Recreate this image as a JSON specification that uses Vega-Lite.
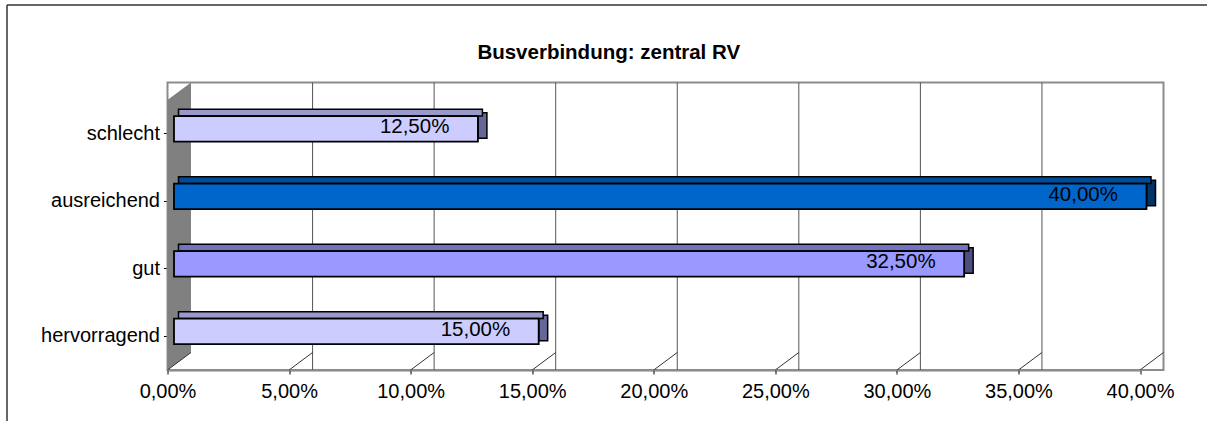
{
  "$schema": "https://vega.github.io/schema/vega-lite/v6.json",
  "width": 972.5,
  "height": 270,
  "autosize": {"type": "none"},
  "padding": {"left": 167.5, "top": 100, "right": 67, "bottom": 51},
  "background": "white",
  "title": {
    "text": "Busverbindung: zentral RV",
    "font": "Liberation Sans",
    "fontSize": 20.5,
    "fontWeight": "bold",
    "color": "black",
    "anchor": "middle",
    "baseline": "alphabetic",
    "dx": -45,
    "offset": -77
  },
  "config": {
    "locale": {"number": {"decimal": ",", "thousands": ".", "grouping": [3], "currency": ["", " €"]}},
    "view": {"stroke": null},
    "font": "Liberation Sans"
  },
  "datasets": {
    "bars": [
      {"cat": "schlecht", "value": 0.125},
      {"cat": "ausreichend", "value": 0.4},
      {"cat": "gut", "value": 0.325},
      {"cat": "hervorragend", "value": 0.15}
    ],
    "ticks": [
      {"tick": 0}, {"tick": 0.05}, {"tick": 0.1}, {"tick": 0.15}, {"tick": 0.2},
      {"tick": 0.25}, {"tick": 0.3}, {"tick": 0.35}, {"tick": 0.4}
    ],
    "inner": [
      {"tick": 0.05}, {"tick": 0.1}, {"tick": 0.15}, {"tick": 0.2},
      {"tick": 0.25}, {"tick": 0.3}, {"tick": 0.35}
    ],
    "one": [{"k": 1}]
  },
  "layer": [
    {
      "data": {"name": "one"},
      "mark": {"type": "point", "filled": false, "stroke": "#333333", "strokeWidth": 1.5, "opacity": 1,
        "shape": "M-0.6978,0.82L-0.6978,-1", "size": 211600},
      "encoding": {"x": {"datum": 0, "type": "quantitative"}}
    },
    {
      "data": {"name": "one"},
      "mark": {"type": "point", "filled": false, "stroke": "#333333", "strokeWidth": 1.5, "opacity": 1,
        "shape": "M-0.6978,-1L4.6,-1", "size": 211600},
      "encoding": {"x": {"datum": 0, "type": "quantitative"}}
    },
    {
      "data": {"name": "one"},
      "mark": {"type": "rect", "fill": "white", "stroke": "#8c8c8c", "strokeWidth": 2,
        "xOffset": 23.5, "x2Offset": 23.5, "yOffset": -17.5, "y2Offset": -17.5},
      "encoding": {}
    },
    {
      "data": {"name": "inner"},
      "mark": {"type": "rule", "stroke": "#555555", "strokeWidth": 1,
        "xOffset": 23.5, "yOffset": -17.5, "y2Offset": -17.5},
      "encoding": {"x": {"field": "tick", "type": "quantitative"}}
    },
    {
      "data": {"name": "one"},
      "mark": {"type": "point", "filled": true, "fill": "#808080", "opacity": 1, "strokeWidth": 0,
        "shape": "M-0.0817,-0.8783L0.0817,-1L0.0817,0.8783L-0.0817,1Z",
        "size": 82656.25, "xOffset": 11.75, "yOffset": -8.75},
      "encoding": {"x": {"datum": 0, "type": "quantitative"}}
    },
    {
      "data": {"name": "ticks"},
      "mark": {"type": "point", "filled": false, "stroke": "#333333", "strokeWidth": 1, "opacity": 1,
        "shape": "M0,0L1,-0.7447", "size": 2209, "yOffset": 135},
      "encoding": {"x": {"field": "tick", "type": "quantitative"}}
    },
    {
      "data": {"name": "bars"},
      "mark": {"type": "tick", "orient": "vertical", "thickness": 9, "size": 25.6,
        "stroke": "black", "strokeWidth": 1.5, "opacity": 1, "xOffset": 11, "yOffset": -8.25},
      "encoding": {
        "x": {"field": "value", "type": "quantitative"},
        "y": {"field": "cat", "type": "nominal", "sort": ["schlecht", "ausreichend", "gut", "hervorragend"]},
        "fill": {
          "condition": [
            {"test": "datum.cat === 'ausreichend'", "value": "#003366"},
            {"test": "datum.cat === 'gut'", "value": "#4d4d80"}
          ],
          "value": "#666699"
        }
      }
    },
    {
      "data": {"name": "bars"},
      "mark": {"type": "bar", "size": 6.7, "stroke": "black", "strokeWidth": 1.5,
        "xOffset": 11, "x2Offset": 11, "yOffset": -21.05, "y2Offset": -21.05},
      "encoding": {
        "x": {"field": "value", "type": "quantitative"},
        "y": {"field": "cat", "type": "nominal", "sort": ["schlecht", "ausreichend", "gut", "hervorragend"]},
        "fill": {
          "condition": [
            {"test": "datum.cat === 'ausreichend'", "value": "#004c99"},
            {"test": "datum.cat === 'gut'", "value": "#7373bf"}
          ],
          "value": "#9999cc"
        }
      }
    },
    {
      "data": {"name": "bars"},
      "mark": {"type": "bar", "size": 25.6, "stroke": "black", "strokeWidth": 1.8,
        "xOffset": 6.5, "x2Offset": 6.5, "yOffset": -4.9, "y2Offset": -4.9},
      "encoding": {
        "x": {
          "field": "value", "type": "quantitative",
          "scale": {"domain": [0, 0.4], "nice": false, "zero": true},
          "axis": {
            "values": [0, 0.05, 0.1, 0.15, 0.2, 0.25, 0.3, 0.35, 0.4],
            "format": ".2%", "title": null, "grid": false,
            "domainColor": "black", "domainWidth": 1.5, "tickColor": "black", "tickSize": 4,
            "labelFontSize": 20, "labelColor": "black", "labelPadding": 7,
            "labelFont": "Liberation Sans", "labelFlush": false
          }
        },
        "y": {
          "field": "cat", "type": "nominal",
          "sort": ["schlecht", "ausreichend", "gut", "hervorragend"],
          "scale": {"paddingInner": 0, "paddingOuter": 0},
          "axis": {
            "title": null, "domainColor": "black", "domainWidth": 1.5, "tickColor": "black", "tickSize": 4,
            "labelFontSize": 20, "labelColor": "black", "labelPadding": 4, "labelFont": "Liberation Sans"
          }
        },
        "fill": {
          "condition": [
            {"test": "datum.cat === 'ausreichend'", "value": "#0066cc"},
            {"test": "datum.cat === 'gut'", "value": "#9999ff"}
          ],
          "value": "#ccccff"
        }
      }
    },
    {
      "data": {"name": "bars"},
      "mark": {"type": "text", "align": "right", "baseline": "middle", "fontSize": 20.5,
        "font": "Liberation Sans", "color": "black", "dx": -22, "yOffset": -6.5},
      "encoding": {
        "x": {"field": "value", "type": "quantitative"},
        "y": {"field": "cat", "type": "nominal", "sort": ["schlecht", "ausreichend", "gut", "hervorragend"]},
        "text": {"field": "value", "type": "quantitative", "format": ".2%"}
      }
    }
  ]
}
